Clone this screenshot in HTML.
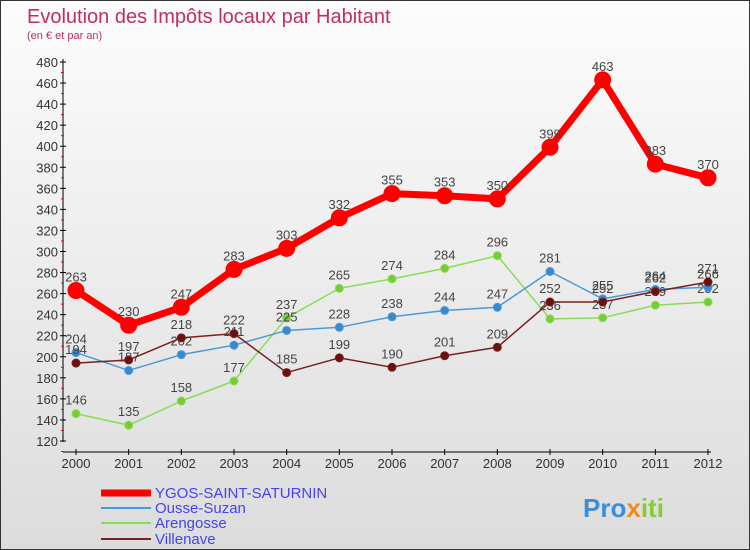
<!DOCTYPE html>
<html><head><meta charset="utf-8"><style>
body{margin:0;}
#c{width:748px;height:548px;border:1px solid #333;background:linear-gradient(#fcfcfc,#dcdcdc);position:relative;font-family:"Liberation Sans",sans-serif;overflow:hidden}
</style></head><body>
<div id="c">
<svg id="s" width="748" height="548" style="position:absolute;left:0;top:0">
<text x="26" y="22" font-size="20" fill="#c0305a">Evolution des Impôts locaux par Habitant</text>
<text x="26" y="38" font-size="11" fill="#c0305a">(en € et par an)</text>
<g id="axes"></g><g id="series"></g>
<g font-size="15">
<line x1="100" y1="492" x2="150" y2="492" stroke="#ff0000" stroke-width="7"/><text x="154" y="497" fill="#4444ee">YGOS-SAINT-SATURNIN</text>
<line x1="100" y1="507" x2="150" y2="507" stroke="#4a9ad8" stroke-width="2"/><text x="154" y="512" fill="#4444ee">Ousse-Suzan</text>
<line x1="100" y1="522" x2="150" y2="522" stroke="#88dd55" stroke-width="2"/><text x="154" y="527" fill="#4444ee">Arengosse</text>
<line x1="100" y1="538" x2="150" y2="538" stroke="#7a2020" stroke-width="2"/><text x="154" y="543" fill="#4444ee">Villenave</text>
</g>
<text x="582" y="516" font-size="26" font-weight="bold" fill="#3a8fd8">Pro<tspan fill="#f08a1a">x</tspan><tspan fill="#88cc33">iti</tspan></text>
</svg></div>
<script>
const years=[2000,2001,2002,2003,2004,2005,2006,2007,2008,2009,2010,2011,2012];
const yTicks=[120,140,160,180,200,220,240,260,280,300,320,340,360,380,400,420,440,460,480];
const ygos=[263,230,247,283,303,332,355,353,350,399,463,383,370];
const ousse=[204,187,202,211,225,228,238,244,247,281,255,264,266];
const arengosse=[146,135,158,177,237,265,274,284,296,236,237,249,252];
const villenave=[194,197,218,222,185,199,190,201,209,252,252,262,271];
const NS="http://www.w3.org/2000/svg";
const X=i=>75+i*(632/12), Y=v=>440-(v-120)*(379/360);
function mk(t,a,p){const e=document.createElementNS(NS,t);for(const k in a)e.setAttribute(k,a[k]);p.appendChild(e);return e;}
const ax=document.getElementById('axes');
mk('line',{x1:62,y1:58,x2:62,y2:441,stroke:'#000'},ax);
mk('line',{x1:62,y1:451,x2:710,y2:451,stroke:'#000'},ax);
yTicks.forEach(v=>{const y=Y(v);
 mk('line',{x1:59,y1:y,x2:65,y2:y,stroke:'#000'},ax);
 mk('line',{x1:60,y1:y+10.5,x2:63,y2:y+10.5,stroke:'#f00'},ax);
 const t=mk('text',{x:57,y:y+5,'text-anchor':'end','font-size':13,fill:'#333'},ax);t.textContent=v;
 });
years.forEach((yr,i)=>{const x=X(i);
 mk('line',{x1:x,y1:448,x2:x,y2:454,stroke:'#000'},ax);
 const t=mk('text',{x:x,y:467,'text-anchor':'middle','font-size':13,fill:'#333'},ax);t.textContent=yr;
 });
const sg=document.getElementById('series');
function draw(name,data,color,w,r,dot){const g=mk('g',{},sg);
 
 mk('polyline',{points:data.map((v,i)=>X(i)+','+Y(v)).join(' '),fill:'none',stroke:color,'stroke-width':w,'stroke-linejoin':'round'},g);
 data.forEach((v,i)=>{const c=mk('circle',{cx:X(i),cy:Y(v),r:r,fill:dot,stroke:color,'stroke-width':1},g);
  
  const t=mk('text',{x:X(i),y:Y(v)-9,'text-anchor':'middle','font-size':13,fill:'#444'},g);t.textContent=v;
  });}
draw('arengosse',arengosse,'#88dd55',1.5,4,'#77cc33');
draw('ousse',ousse,'#4a9ad8',1.5,4,'#3a88cc');
draw('villenave',villenave,'#7a2020',1.5,4,'#6a1010');
draw('ygos',ygos,'#ff0000',7,8,'#ff0000');
</script>
</body></html>
